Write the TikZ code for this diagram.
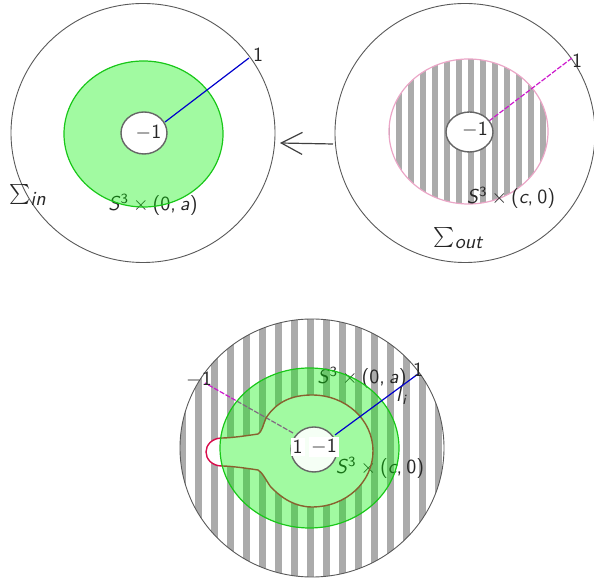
\documentclass[tikz,border=0pt]{standalone}
\usepackage{fontspec}
\usetikzlibrary{arrows.meta}
\definecolor{stripe}{gray}{0.67}
\definecolor{gfill}{rgb}{0,0.95,0}
\definecolor{gline}{rgb}{0.1,0.78,0.1}
\definecolor{ringc}{rgb}{0.85,0.05,0.3}
\definecolor{pinkb}{rgb}{0.92,0.65,0.78}
\definecolor{mag}{rgb}{0.8,0.1,0.8}
\definecolor{outc}{gray}{0.35}
\definecolor{txt}{gray}{0.15}
\definecolor{bluel}{rgb}{0,0,0.8}
\newcommand{\Sthree}[1]{\textit{S}\textsuperscript{3}\hspace{2pt}$\times$\hspace{2pt}(#1)}
\tikzset{
  outer/.style={draw=outc, line width=0.45pt},
  innerell/.style={draw=black!60, line width=0.7pt, fill=white},
  greenfill/.style={fill=gfill, fill opacity=0.37, draw=gline, line width=0.6pt},
  lbl/.style={text=txt, font=\sffamily, inner sep=1pt},
  blueline/.style={draw=bluel, line width=0.6pt},
  magline/.style={draw=mag, line width=0.6pt, dash pattern=on 2.5pt off 0.8pt},
  arrowline/.style={draw=black!75, line width=0.6pt, -{Straight Barb[length=10.5pt,width=11pt]}},
}
\begin{document}
\begin{tikzpicture}[x=0.5pt,y=-0.5pt]
\useasboundingbox (0,0) rectangle (594,581);
% ---------- top left ----------
\draw[outer] (143,133) ellipse [x radius=132, y radius=129.5];
\node[lbl] (sin) at (28,195) {$\sum_{\textsf{\textit{in}}}$};
\node[lbl] (sl) at (153,205) {\Sthree{0,\hspace{2pt}\textit{a}}};
\draw[greenfill] (143.5,134) ellipse [x radius=79.5, y radius=73];
\coordinate (blA) at (165,122);
\coordinate (blB) at (249,58);
\draw[blueline] (blA) -- (blB);
\draw[innerell] (144,133) ellipse [x radius=23, y radius=21];
\node[lbl] (ml) at (148.5,133) {$-$1};
\node[lbl] (pl) at (258,55) {1};
% ---------- top right ----------
\draw[outer] (465,133) ellipse [x radius=130, y radius=129.5];
\begin{scope}
  \clip (468.5,131.5) ellipse [x radius=79.5, y radius=72.5];
  \foreach \k in {-1,...,13} \fill[stripe] ({396+12*\k},50) rectangle ++(6,170);
\end{scope}
\draw[pinkb, line width=0.6pt] (468.5,131.5) ellipse [x radius=79.5, y radius=72.5];
\node[lbl] (sr) at (511,198) {\Sthree{\textit{c},\hspace{2pt}0}};
\coordinate (mrA) at (489,121);
\coordinate (mrB) at (572,58);
\draw[magline] (mrA) -- (mrB);
\draw[innerell] (469.5,132) ellipse [x radius=23.5, y radius=20];
\node[lbl] (mr) at (475,130) {$-$1};
\node[lbl] (pr) at (577,61) {1};
\node[lbl] (sout) at (459,238) {$\sum_{\textsf{\textit{out}}}$};
% ---------- arrow ----------
\coordinate (arS) at (333,144);
\coordinate (arE) at (280,143);
\draw[arrowline] (arS) -- (arE);
% ---------- bottom ----------
\begin{scope}
  \clip (312,448) ellipse [x radius=132, y radius=129];
  \foreach \k in {-4,...,14} \fill[stripe] ({226.7+16*\k},310) rectangle ++(7,280);
\end{scope}
\draw[outer] (312,448) ellipse [x radius=132, y radius=129];
\fill[white] (258,434) .. controls (262,432) and (263,425) .. (266,418)
  .. controls (277,401) and (293,395) .. (312,395)
  .. controls (346,395) and (373,420) .. (373,451)
  .. controls (373,482) and (346,507) .. (312,507)
  .. controls (296,507) and (282,499) .. (270,486)
  .. controls (266,480) and (262,472) .. (258,470)
  .. controls (245,468) and (230,466) .. (222,466)
  .. controls (212,466) and (206,459) .. (206,452)
  .. controls (206,445) and (212,438) .. (222,438)
  .. controls (230,438) and (245,436) .. (258,434) -- cycle;
\coordinate (mbA) at (293,433);
\coordinate (mbB) at (205,383);
\draw[magline] (mbA) -- (mbB);
\node[lbl] (sb1) at (362,378) {\Sthree{0,\hspace{2pt}\textit{a}}};
\node[lbl] (sb2) at (380,468) {\Sthree{\textit{c},\hspace{2pt}0}};
\draw[ringc, line width=0.7pt] (258,434) .. controls (262,432) and (263,425) .. (266,418)
  .. controls (277,401) and (293,395) .. (312,395)
  .. controls (346,395) and (373,420) .. (373,451)
  .. controls (373,482) and (346,507) .. (312,507)
  .. controls (296,507) and (282,499) .. (270,486)
  .. controls (266,480) and (262,472) .. (258,470)
  .. controls (245,468) and (230,466) .. (222,466)
  .. controls (212,466) and (206,459) .. (206,452)
  .. controls (206,445) and (212,438) .. (222,438)
  .. controls (230,438) and (245,436) .. (258,434) -- cycle;
\draw[greenfill] (309.5,448) ellipse [x radius=89.5, y radius=80];
\coordinate (bbA) at (335,435);
\coordinate (bbB) at (418,374);
\draw[blueline] (bbA) -- (bbB);
\draw[innerell, fill=green!4] (314,449.5) ellipse [x radius=23, y radius=22.5];
\node[lbl, fill=white] (b1) at (297.5,447) {1};
\node[lbl, fill=white] (bm1) at (324,447) {$-$1};
\node[lbl] (bml) at (199,380) {$-$1};
\node[lbl] (bpl) at (418,370) {1};
\node[lbl] (li) at (402,396) {\textit{l}\textsubscript{\textit{i}}};
\end{tikzpicture}
\end{document}
